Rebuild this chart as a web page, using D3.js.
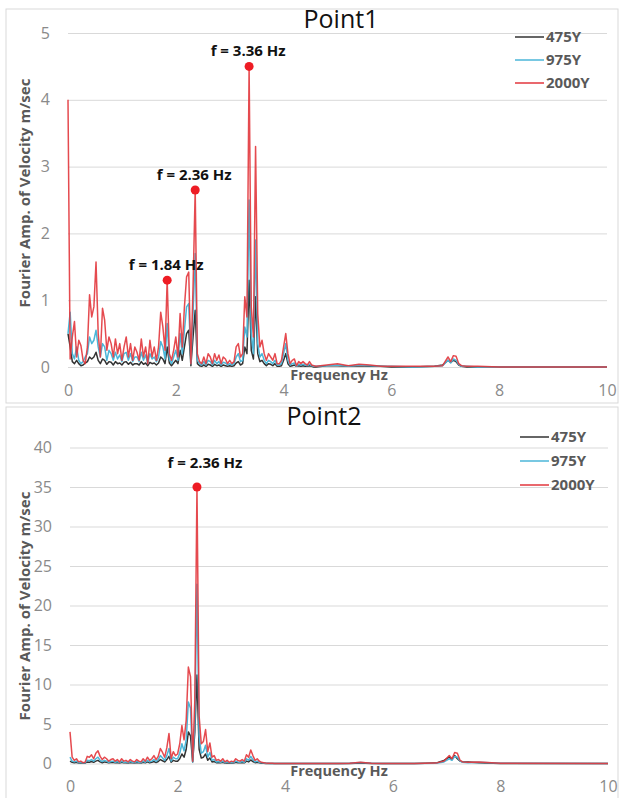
<!DOCTYPE html>
<html>
<head>
<meta charset="utf-8">
<script src="https://cdn.jsdelivr.net/npm/d3@7"></script>
<style>
  body { margin: 0; background: #fff; }
  text { font-family: "Open Sans", "Noto Sans", sans-serif; }
</style>
</head>
<body>
<svg id="chart" width="621" height="798"></svg>
<script>
// Frequency grid (Hz): 0.04 Hz steps up to 4.6, then sparser points
const freqFine = d3.range(116).map(i => +(i * 0.04).toFixed(2));
const freqTail = [4.8, 5.0, 5.2, 5.4, 5.6, 5.8, 6.0, 6.4, 6.8, 6.95, 7.05, 7.1, 7.15, 7.2, 7.25, 7.3, 7.4, 7.6, 8.0, 10.0];
const freq = freqFine.concat(freqTail);

const seriesNames = ["475Y", "975Y", "2000Y"];
const seriesColors = ["#333333", "#4bb6d8", "#e2363c"];

// Point1 amplitudes
const p1_475 = [
  0.5, 0.3, 0.08, 0.05, 0.1, 0.05, 0.02, 0.03, 0.06, 0.08,
  0.15, 0.12, 0.15, 0.22, 0.1, 0.05, 0.12, 0.1, 0.04, 0.08,
  0.07, 0.03, 0.08, 0.05, 0.06, 0.03, 0.07, 0.08, 0.04, 0.07,
  0.03, 0.05, 0.05, 0.03, 0.08, 0.04, 0.06, 0.02, 0.07, 0.05,
  0.06, 0.03, 0.06, 0.15, 0.12, 0.05, 0.3, 0.06, 0.02, 0.06,
  0.1, 0.05, 0.25, 0.1, 0.3, 0.5, 0.55, 0.02, 0.45, 0.85,
  0.05, 0.02, 0.01, 0.03, 0.01, 0.04, 0.03, 0.01, 0.04, 0.02,
  0.03, 0.01, 0.03, 0.02, 0.01, 0.02, 0.01, 0.02, 0.06, 0.08,
  0.03, 0.05, 0.3, 0.2, 1.3, 0.25, 0.12, 1.05, 0.2, 0.08,
  0.1, 0.05, 0.02, 0.05, 0.04, 0.02, 0.05, 0.01, 0.01, 0.02,
  0.1, 0.2, 0.05, 0.01, 0.02, 0.03, 0.01, 0.02, 0.01, 0.02,
  0.01, 0.01, 0.02, 0.01, 0.0, 0.0,
  0.02, 0.02, 0.01, 0.02, 0.01, 0.01, 0, 0, 0.01, 0.03, 0.1, 0.07, 0.1, 0.08, 0.03, 0.01, 0, 0, 0, 0
];
const p1_975 = [
  0.5, 0.82, 0.2, 0.12, 0.3, 0.1, 0.05, 0.08, 0.15, 0.2,
  0.45, 0.35, 0.4, 0.55, 0.3, 0.15, 0.35, 0.3, 0.1, 0.25,
  0.2, 0.1, 0.22, 0.12, 0.18, 0.08, 0.2, 0.22, 0.1, 0.2,
  0.08, 0.15, 0.15, 0.08, 0.22, 0.1, 0.18, 0.05, 0.2, 0.12,
  0.15, 0.08, 0.15, 0.38, 0.3, 0.12, 0.65, 0.12, 0.05, 0.15,
  0.25, 0.1, 0.5, 0.2, 0.55, 0.9, 0.95, 0.05, 0.8, 1.7,
  0.1, 0.05, 0.03, 0.08, 0.03, 0.1, 0.08, 0.03, 0.1, 0.05,
  0.08, 0.03, 0.07, 0.06, 0.03, 0.05, 0.03, 0.05, 0.15, 0.2,
  0.08, 0.1, 0.6, 0.45, 2.5, 0.5, 0.2, 1.9, 0.35, 0.15,
  0.2, 0.1, 0.05, 0.1, 0.08, 0.05, 0.1, 0.03, 0.03, 0.05,
  0.2, 0.35, 0.1, 0.03, 0.05, 0.06, 0.01, 0.04, 0.03, 0.04,
  0.03, 0.02, 0.04, 0.02, 0.01, 0.01,
  0.02, 0.03, 0.01, 0.03, 0.02, 0.01, 0.01, 0, 0.01, 0.02, 0.1, 0.06, 0.12, 0.1, 0.04, 0.01, 0.01, 0, 0, 0
];
const p1_2000 = [
  4.0, 0.12, 0.45, 0.68, 0.15, 0.4, 0.32, 0.1, 0.05, 0.3,
  1.08, 0.75, 0.9, 1.57, 0.5, 0.15, 0.88, 0.7, 0.25, 0.45,
  0.35, 0.15, 0.42, 0.2, 0.35, 0.1, 0.3, 0.45, 0.15, 0.35,
  0.1, 0.3, 0.22, 0.1, 0.42, 0.15, 0.3, 0.05, 0.4, 0.15,
  0.3, 0.1, 0.3, 0.82, 0.6, 0.25, 1.3, 0.2, 0.1, 0.25,
  0.45, 0.15, 0.8, 0.3, 0.9, 1.35, 1.42, 0.05, 1.2, 2.65,
  0.2, 0.08, 0.05, 0.15, 0.05, 0.2, 0.15, 0.05, 0.2, 0.1,
  0.18, 0.05, 0.15, 0.12, 0.05, 0.1, 0.05, 0.08, 0.3, 0.35,
  0.15, 0.2, 1.05, 0.75, 4.5, 0.9, 0.45, 3.3, 0.8, 0.3,
  0.4, 0.2, 0.1, 0.2, 0.15, 0.1, 0.2, 0.05, 0.05, 0.1,
  0.3, 0.5, 0.2, 0.05, 0.1, 0.12, 0.02, 0.08, 0.05, 0.08,
  0.05, 0.03, 0.08, 0.03, 0.02, 0.01,
  0.03, 0.05, 0.02, 0.04, 0.03, 0.01, 0.01, 0.01, 0.01, 0.02, 0.15, 0.08, 0.17, 0.16, 0.05, 0.02, 0.01, 0.01, 0, 0
];

// Point2 amplitudes
const p2_475 = [
  0.3, 0.15, 0.1, 0.15, 0.05, 0.08, 0.03, 0.05, 0.2, 0.15,
  0.25, 0.15, 0.3, 0.4, 0.2, 0.1, 0.2, 0.15, 0.08, 0.12,
  0.15, 0.08, 0.12, 0.05, 0.15, 0.08, 0.1, 0.05, 0.12, 0.08,
  0.05, 0.12, 0.08, 0.05, 0.15, 0.08, 0.2, 0.1, 0.15, 0.25,
  0.12, 0.25, 0.5, 0.35, 0.2, 0.5, 0.9, 0.15, 0.4, 0.3,
  0.3, 0.6, 1.2, 0.8, 1.8, 4.0, 3.5, 0.2, 4.0, 11.2,
  1.8, 0.7, 0.8, 1.2, 0.4, 0.7, 0.2, 0.25, 0.1, 0.12,
  0.08, 0.15, 0.05, 0.1, 0.04, 0.08, 0.05, 0.15, 0.1, 0.08,
  0.12, 0.08, 0.3, 0.2, 0.45, 0.25, 0.1, 0.15, 0.08, 0.04,
  0.02, 0.01, 0.01, 0.01, 0.01, 0.01, 0.01, 0.01, 0.01, 0.01,
  0.01, 0.01, 0.01, 0.01, 0.01, 0.01, 0.01, 0.01, 0.01, 0.01,
  0.01, 0.01, 0.01, 0.01, 0.01, 0.01,
  0.01, 0.01, 0.01, 0.06, 0.01, 0.01, 0.01, 0.01, 0.05, 0.4, 0.8, 0.5, 1.0, 0.6, 0.3, 0.2, 0.2, 0.1, 0.01, 0
];
const p2_975 = [
  0.8, 0.3, 0.2, 0.3, 0.1, 0.15, 0.05, 0.1, 0.4, 0.35,
  0.5, 0.3, 0.6, 0.8, 0.4, 0.25, 0.4, 0.3, 0.15, 0.25,
  0.3, 0.15, 0.25, 0.1, 0.3, 0.15, 0.2, 0.1, 0.25, 0.15,
  0.1, 0.25, 0.15, 0.1, 0.3, 0.15, 0.4, 0.2, 0.3, 0.5,
  0.25, 0.5, 1.0, 0.7, 0.4, 1.0, 1.9, 0.3, 0.8, 0.6,
  0.6, 1.3, 2.5, 1.6, 3.0, 7.8, 7.0, 0.2, 5.0, 22.7,
  3.5, 1.3, 1.5, 2.3, 0.8, 1.4, 0.4, 0.5, 0.2, 0.25,
  0.15, 0.3, 0.1, 0.2, 0.08, 0.15, 0.1, 0.3, 0.2, 0.15,
  0.25, 0.15, 0.6, 0.4, 0.9, 0.5, 0.2, 0.3, 0.15, 0.08,
  0.05, 0.03, 0.02, 0.01, 0.01, 0.01, 0.01, 0.01, 0.01, 0.01,
  0.01, 0.01, 0.01, 0.01, 0.01, 0.01, 0.01, 0.01, 0.01, 0.01,
  0.01, 0.01, 0.01, 0.01, 0.01, 0.01,
  0.01, 0.01, 0.02, 0.12, 0.02, 0.01, 0.01, 0.01, 0.03, 0.2, 0.6, 0.4, 0.9, 0.8, 0.3, 0.15, 0.1, 0.15, 0.02, 0
];
const p2_2000 = [
  4.0, 0.8, 0.4, 0.6, 0.2, 0.3, 0.1, 0.15, 0.9, 0.8,
  1.1, 0.6, 1.3, 1.6, 0.9, 0.5, 0.8, 0.6, 0.3, 0.5,
  0.6, 0.3, 0.5, 0.2, 0.6, 0.3, 0.4, 0.2, 0.5, 0.3,
  0.2, 0.5, 0.3, 0.2, 0.6, 0.3, 0.8, 0.4, 0.6, 1.0,
  0.5, 0.9, 1.9, 1.4, 0.8, 2.0, 3.8, 0.6, 1.5, 1.0,
  1.2, 2.5, 4.8, 3.0, 5.5, 12.2, 11.0, 0.3, 8.0, 35.0,
  6.0, 2.5, 2.8, 4.3, 1.5, 2.6, 0.8, 1.0, 0.4, 0.5,
  0.3, 0.6, 0.2, 0.4, 0.15, 0.3, 0.2, 0.6, 0.4, 0.3,
  0.5, 0.3, 1.1, 0.8, 1.7, 1.0, 0.4, 0.6, 0.3, 0.15,
  0.1, 0.05, 0.03, 0.02, 0.02, 0.01, 0.01, 0.01, 0.01, 0.01,
  0.01, 0.01, 0.01, 0.01, 0.01, 0.01, 0.01, 0.01, 0.01, 0.01,
  0.01, 0.01, 0.01, 0.01, 0.01, 0.01,
  0.01, 0.01, 0.02, 0.15, 0.02, 0.01, 0.01, 0.01, 0.05, 0.3, 1.0, 0.6, 1.4, 1.3, 0.4, 0.2, 0.15, 0.2, 0.02, 0
];

// Marked peaks
const p1_peakFreq = [1.84, 2.36, 3.36];
const p1_peakAmp = [1.3, 2.65, 4.5];
const p2_peakFreq = [2.36];
const p2_peakAmp = [35];

const xTicks = [0, 2, 4, 6, 8, 10];
const p1_yTicks = [0, 1, 2, 3, 4, 5];
const p2_yTicks = [0, 5, 10, 15, 20, 25, 30, 35, 40];

const svg = d3.select("#chart");
svg.append("rect").attr("width", 621).attr("height", 798).attr("fill", "#fff");

function draw_panel(cfg) {
  const g = svg.append("g");

  // Frame
  g.append("rect")
    .attr("x", cfg.box[0]).attr("y", cfg.box[1])
    .attr("width", cfg.box[2]).attr("height", cfg.box[3])
    .attr("fill", "none").attr("stroke", "#d9d9d9").attr("stroke-width", 1);

  const x = d3.scaleLinear().domain([0, 10]).range([cfg.left, cfg.right]);
  const y = d3.scaleLinear().domain([0, cfg.yMax]).range([cfg.bottom, cfg.top]);

  // Horizontal grid
  g.append("g")
    .attr("transform", "translate(" + cfg.left + ",0)")
    .call(d3.axisLeft(y).tickValues(cfg.yTicks).tickSize(-(cfg.right - cfg.left)).tickFormat(""))
    .call(a => a.select(".domain").remove())
    .call(a => a.selectAll("line").attr("stroke", "#d9d9d9"));

  // Y tick labels
  g.append("g")
    .attr("transform", "translate(" + (cfg.left - 18) + ",0)")
    .call(d3.axisLeft(y).tickValues(cfg.yTicks).tickFormat(d3.format("d")).tickSize(0).tickPadding(0))
    .call(a => a.select(".domain").remove())
    .call(a => a.selectAll("text")
      .attr("fill", "#8a8a8a")
      .style("font-size", "16px")
      .style("font-family", "'Open Sans', sans-serif"));

  // X tick labels
  g.append("g")
    .attr("transform", "translate(0," + cfg.xLabelY + ")")
    .call(d3.axisBottom(x).tickValues(xTicks).tickFormat(d3.format("d")).tickSize(0).tickPadding(0))
    .call(a => a.select(".domain").remove())
    .call(a => a.selectAll("text")
      .attr("fill", "#8a8a8a")
      .style("font-size", "16px")
      .style("font-family", "'Open Sans', sans-serif"));

  // Series lines
  const line = d3.line()
    .x((d, i) => x(freq[i]))
    .y(d => y(d));

  cfg.series.forEach(function (s, k) {
    g.append("path")
      .datum(s)
      .attr("fill", "none")
      .attr("stroke", seriesColors[k])
      .attr("stroke-width", 1.5)
      .attr("stroke-linejoin", "round")
      .attr("opacity", k === 2 ? 0.9 : 1)
      .attr("d", line);
  });

  // Title
  g.append("text")
    .attr("x", cfg.titleX).attr("y", cfg.titleY)
    .attr("text-anchor", "middle")
    .style("font-size", "25px")
    .attr("fill", "#111")
    .text(cfg.title);

  // Axis titles
  g.append("text")
    .attr("x", 339).attr("y", cfg.xTitleY)
    .attr("text-anchor", "middle")
    .style("font-size", "14.5px").style("font-weight", "bold")
    .attr("fill", "#595959")
    .text("Frequency Hz");

  g.append("text")
    .attr("transform", "translate(30," + cfg.yTitleY + ") rotate(-90)")
    .attr("text-anchor", "middle")
    .style("font-size", "15px").style("font-weight", "bold")
    .attr("fill", "#595959")
    .text("Fourier Amp. of Velocity m/sec");

  // Legend
  const legend = g.append("g");
  seriesNames.forEach(function (name, k) {
    const ly = cfg.legendY + k * cfg.legendStep;
    legend.append("line")
      .attr("x1", cfg.legendX).attr("x2", cfg.legendX + 29)
      .attr("y1", ly).attr("y2", ly)
      .attr("stroke", seriesColors[k]).attr("stroke-width", 1.5);
    legend.append("text")
      .attr("x", cfg.legendX + 31).attr("y", ly + 5)
      .style("font-size", "15px").style("font-weight", "bold")
      .attr("fill", "#595959")
      .text(name);
  });

  // Peak markers and labels
  cfg.peakFreq.forEach(function (f, k) {
    const px = x(f), py = y(cfg.peakAmp[k]);
    g.append("circle")
      .attr("cx", px).attr("cy", py).attr("r", 4.5)
      .attr("fill", "#ee1c24");
    g.append("text")
      .attr("x", px + cfg.labelDx).attr("y", py - cfg.labelDy)
      .attr("text-anchor", "middle")
      .style("font-size", "15px").style("font-weight", "bold")
      .attr("fill", "#111")
      .text("f = " + f.toFixed(2) + " Hz");
  });
}

draw_panel({
  box: [6, 9, 612, 394],
  left: 68, right: 607, top: 33, bottom: 367,
  yMax: 5, yTicks: p1_yTicks,
  xLabelY: 385, xTitleY: 380, yTitleY: 193,
  title: "Point1", titleX: 341, titleY: 28,
  legendX: 515, legendY: 37, legendStep: 23,
  series: [p1_475, p1_975, p1_2000],
  peakFreq: p1_peakFreq, peakAmp: p1_peakAmp,
  labelDx: -1, labelDy: 10
});

draw_panel({
  box: [6, 407, 612, 394],
  left: 70, right: 608, top: 447.5, bottom: 763.5,
  yMax: 40, yTicks: p2_yTicks,
  xLabelY: 781, xTitleY: 776, yTitleY: 606,
  title: "Point2", titleX: 324, titleY: 425,
  legendX: 520, legendY: 437, legendStep: 24,
  series: [p2_475, p2_975, p2_2000],
  peakFreq: p2_peakFreq, peakAmp: p2_peakAmp,
  labelDx: 8, labelDy: 19
});
</script>
</body>
</html>
